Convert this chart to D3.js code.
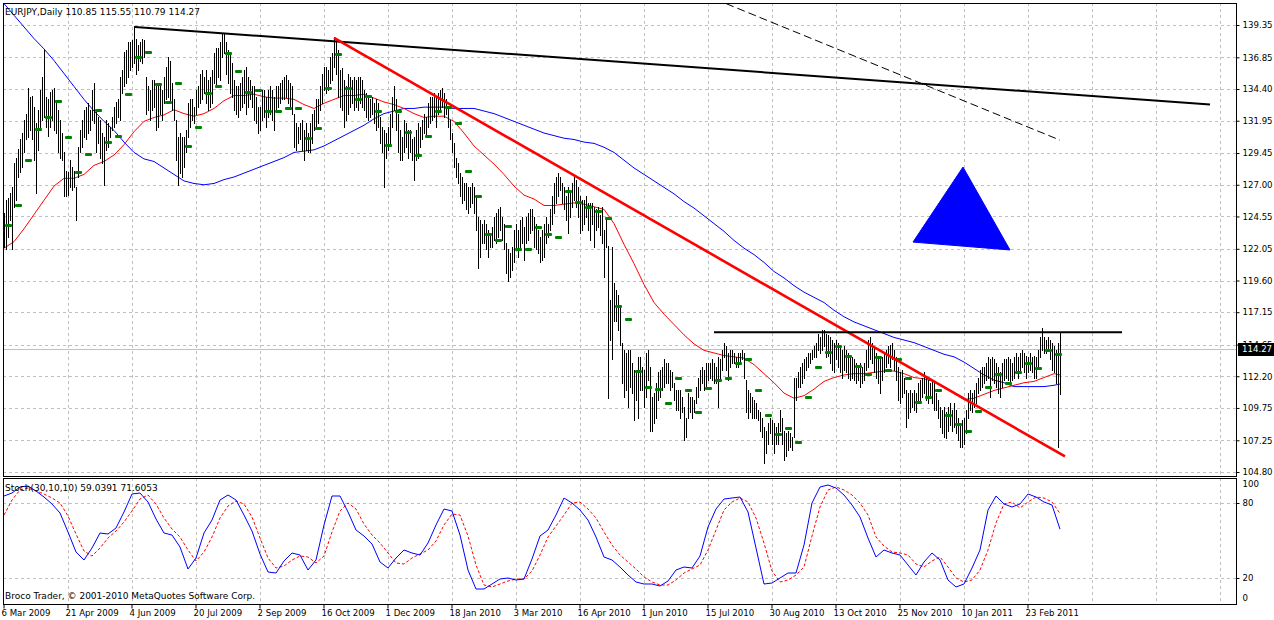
<!DOCTYPE html>
<html>
<head>
<meta charset="utf-8">
<script src="https://cdn.jsdelivr.net/npm/d3@7/dist/d3.min.js"></script>
<style>
  body { margin: 0; background: #fff; }
  text { font-family: "DejaVu Sans", sans-serif; }
</style>
</head>
<body>
<script>
// daily bars, 6 Mar 2009 .. 18 Mar 2011
const barHigh = [
  124.8,125.8,126.0,126.4,126.8,128.7,129.1,129.8,130.5,131.0,
  132.0,132.5,134.5,133.8,133.9,133.0,131.8,132.8,134.3,135.3,
  137.4,133.8,133.6,134.2,134.3,134.5,133.3,132.8,132.0,131.0,
  129.5,128.1,128.0,128.9,128.4,128.1,126.8,129.9,131.2,132.0,
  132.8,133.0,133.3,132.8,134.3,134.9,132.8,132.2,132.0,131.0,
  130.7,132.0,131.8,131.5,132.2,133.0,133.4,133.6,135.3,135.9,
  137.3,137.4,138.0,138.0,138.2,139.3,138.3,137.8,138.0,138.3,
  138.2,135.3,134.6,134.3,135.1,135.1,134.9,134.6,134.9,134.3,
  135.3,136.1,136.9,136.6,134.9,133.6,132.0,130.7,131.0,130.7,
  130.7,131.2,133.3,133.6,133.6,133.0,134.3,134.6,135.6,135.9,
  135.3,135.9,135.1,135.3,135.9,137.2,137.6,137.6,138.0,138.7,
  138.7,138.0,137.4,137.2,136.4,135.1,134.6,134.6,134.9,135.3,
  135.9,136.1,135.3,135.1,134.6,134.6,133.8,133.0,133.0,134.3,
  134.3,133.8,134.3,134.6,134.3,133.8,134.6,134.6,134.9,135.1,
  135.3,135.5,135.1,134.9,134.6,132.5,131.8,131.5,131.8,132.0,
  131.2,131.8,131.0,131.8,132.5,132.8,133.6,133.6,134.6,135.6,
  136.1,136.1,135.9,136.9,137.2,138.4,138.2,137.4,135.9,136.0,
  135.1,134.6,135.6,135.3,135.1,135.3,135.1,135.3,135.3,135.1,
  134.3,134.1,133.8,133.6,133.8,133.3,133.6,133.3,132.2,131.5,
  131.2,131.0,131.5,132.5,133.8,134.6,133.6,132.5,131.2,130.7,
  132.0,131.8,131.2,131.2,130.5,130.7,131.2,131.8,131.5,132.0,
  132.5,132.2,133.3,133.8,133.8,134.1,133.8,134.1,134.3,134.5,
  134.1,133.6,133.0,132.0,131.0,130.2,129.1,128.7,127.9,127.6,
  127.1,127.1,126.8,126.8,127.1,126.8,126.1,124.5,124.3,124.0,
  124.3,124.0,123.5,123.3,123.7,124.5,124.8,125.1,125.3,124.5,
  124.0,122.5,122.0,121.7,122.2,123.5,124.0,123.5,124.3,124.5,
  123.7,124.5,124.8,125.1,125.1,124.5,124.0,123.5,123.0,123.5,
  124.0,124.5,124.0,125.1,126.1,127.1,127.6,127.9,127.6,127.1,
  126.8,126.1,126.8,126.6,127.1,127.6,127.4,126.8,126.1,125.8,
  125.8,126.1,125.6,125.6,125.6,125.3,125.1,125.3,124.7,125.3,
  123.5,124.5,122.3,118.1,122.2,119.4,118.9,118.5,117.7,114.8,
  114.2,114.0,114.2,114.2,113.2,112.7,112.7,113.7,113.7,112.9,
  112.7,114.0,114.2,112.9,110.6,110.9,111.7,112.5,112.7,112.9,
  113.5,113.2,113.2,112.7,112.5,111.7,111.1,111.1,111.1,110.6,
  109.8,109.0,110.9,110.6,110.6,110.4,111.4,112.1,112.7,112.9,
  112.7,113.2,113.2,113.2,113.5,113.2,112.9,113.7,113.5,114.2,
  114.8,114.5,114.0,114.2,114.2,114.0,113.7,114.0,114.0,114.2,
  114.0,111.9,111.1,110.9,110.6,110.4,110.1,109.6,109.4,109.0,
  108.3,108.0,108.6,109.0,108.8,108.6,108.3,108.6,109.6,109.0,
  108.0,107.8,108.0,107.8,107.5,112.1,112.1,112.5,112.9,113.2,
  113.5,113.7,114.0,114.0,114.2,114.5,114.8,115.5,115.2,115.8,
  115.8,115.5,115.4,115.2,115.0,114.8,115.0,114.8,114.5,114.2,
  114.5,114.2,114.0,113.7,113.7,113.5,113.2,112.9,113.2,112.9,
  113.2,114.2,115.0,115.2,114.8,114.5,114.0,113.7,113.5,113.7,
  114.0,114.2,114.5,114.6,114.8,114.2,113.7,112.9,112.5,112.7,
  112.1,111.1,110.9,111.1,110.9,111.1,110.9,111.7,111.9,112.1,
  112.5,112.1,111.9,111.7,111.9,111.7,110.9,110.4,109.8,109.6,
  109.8,109.4,109.8,110.1,109.6,110.1,109.6,109.0,108.6,108.8,
  109.0,109.6,110.9,111.1,110.9,111.1,111.7,112.1,112.7,112.9,
  112.9,113.2,113.7,113.5,113.7,113.5,113.2,112.9,112.5,113.2,
  113.5,113.5,113.7,113.5,113.2,113.7,114.0,113.7,114.0,114.2,
  114.0,113.8,113.7,114.0,113.7,113.8,113.7,114.2,115.2,115.9,
  115.2,115.0,115.2,115.0,114.8,114.5,114.2,114.8,115.55
];
const barLow = [
  122.2,122.0,123.0,124.3,122.0,125.3,125.8,127.6,128.0,128.4,
  129.5,130.5,130.7,131.2,130.5,128.9,126.4,129.7,131.2,132.0,
  132.2,131.5,130.8,131.5,132.0,131.2,131.0,129.5,129.1,128.9,
  126.1,126.1,126.2,126.8,126.6,126.8,124.3,127.6,129.5,129.9,
  130.7,130.5,131.0,131.2,132.0,131.8,129.5,130.2,129.1,128.7,
  127.0,129.7,129.9,130.7,131.2,131.5,131.8,132.2,132.0,134.1,
  134.6,134.9,135.3,135.9,136.1,136.4,135.6,135.9,136.6,136.4,
  136.9,132.5,132.8,132.0,132.8,133.0,131.2,131.5,132.5,132.0,
  133.3,133.6,133.8,133.3,132.8,132.0,128.9,127.0,127.9,127.6,
  128.4,129.5,130.7,131.5,132.0,131.8,132.5,133.0,133.3,133.6,
  134.1,133.3,132.8,133.0,133.3,134.9,134.6,135.3,135.1,136.9,
  137.2,135.6,134.9,134.1,133.8,132.8,132.5,132.2,132.8,133.0,
  133.3,132.5,133.0,133.6,133.0,132.0,131.8,131.0,131.2,132.0,
  132.2,131.5,132.2,132.5,132.0,131.2,132.8,133.0,133.3,133.6,
  133.6,133.8,133.3,133.0,132.5,129.9,129.7,130.2,130.5,129.7,
  128.9,129.7,129.5,129.5,130.2,131.2,131.5,131.8,132.8,133.3,
  134.3,134.1,134.3,134.9,135.1,136.1,135.6,133.8,133.0,132.8,
  131.5,132.0,132.5,133.0,133.3,132.8,133.0,132.8,133.3,133.0,
  132.8,132.2,132.0,132.2,132.5,131.8,131.2,131.5,130.2,129.5,
  126.8,129.1,129.7,130.2,131.5,132.8,131.2,129.5,128.9,128.9,
  129.5,129.9,129.1,129.5,128.9,127.4,128.9,129.1,129.9,130.5,
  131.0,130.7,131.5,131.8,132.0,132.2,131.5,132.5,132.8,133.0,
  132.2,132.5,131.5,130.5,129.5,128.4,127.6,127.1,126.1,125.6,
  125.8,125.1,124.8,125.3,125.6,124.8,123.5,120.6,121.4,122.5,
  122.5,122.0,121.4,122.2,122.2,122.7,122.5,123.0,123.5,122.7,
  122.0,120.2,119.6,119.9,120.4,121.0,122.0,121.4,122.2,122.5,
  121.2,122.5,122.7,123.3,123.5,122.2,122.0,121.7,121.0,121.2,
  121.4,122.5,123.0,123.5,124.0,124.8,125.6,126.1,126.6,125.6,
  125.1,124.3,123.3,124.5,125.3,125.8,125.3,124.5,123.3,123.5,
  124.0,124.5,123.5,122.7,124.0,122.2,123.5,123.7,123.1,122.5,
  119.9,122.2,110.5,115.0,113.5,116.5,116.5,115.8,114.6,111.7,
  110.6,111.1,109.8,111.4,110.9,108.8,110.4,109.0,111.1,111.1,
  109.8,110.6,111.9,108.0,108.0,108.6,109.0,110.4,110.6,111.1,
  111.4,111.7,111.7,111.1,111.4,110.4,109.6,109.6,109.0,109.4,
  107.3,107.5,109.0,109.4,109.0,109.4,110.1,110.6,111.1,111.7,
  111.1,111.4,111.9,112.1,111.9,111.7,111.7,109.8,112.1,112.7,
  113.7,112.7,111.9,112.9,113.2,113.2,112.9,112.9,113.2,113.5,
  112.1,109.4,109.0,109.4,109.0,109.0,109.0,108.8,108.0,107.5,
  105.5,106.3,107.0,107.8,107.0,106.3,107.0,107.0,108.0,107.0,
  105.7,106.0,106.5,106.7,106.5,107.5,110.4,111.4,111.4,111.7,
  112.1,112.7,112.9,113.2,113.5,113.7,113.7,114.2,114.0,114.2,
  114.5,113.7,113.8,113.2,112.7,112.5,113.5,112.9,112.5,112.1,
  112.7,112.5,112.1,111.9,112.1,111.9,111.7,111.9,111.4,111.7,
  111.9,112.7,112.9,113.5,113.2,112.5,112.1,111.7,110.9,111.9,
  112.5,112.9,113.2,112.9,113.5,112.7,111.9,110.4,110.1,110.6,
  110.9,108.3,109.0,109.4,109.8,109.6,109.4,110.1,110.4,110.6,
  110.9,110.4,110.1,110.6,110.1,109.6,109.6,109.0,108.3,107.8,
  107.5,107.4,108.0,108.4,108.0,108.3,107.8,107.3,106.7,106.7,
  107.0,107.8,109.0,109.6,109.4,109.8,110.1,110.9,111.1,111.4,
  111.7,111.9,112.1,110.6,111.9,111.7,111.4,110.9,110.6,111.4,
  111.9,112.1,111.9,111.7,111.9,112.1,112.5,112.1,112.7,112.9,
  112.5,112.1,112.5,112.7,112.5,112.1,112.1,112.9,113.7,114.2,
  114.0,114.0,114.2,113.5,112.7,112.5,111.7,106.7,110.79
];

// green weekly markers, one per week (5 bars)
const weekMark = [
  123.9,125.4,128.9,131.3,132.2,133.5,130.7,128.0,129.4,132.8,
  130.3,130.8,134.0,136.9,137.3,134.8,133.4,134.9,130.0,131.5,
  134.1,134.6,137.2,135.8,134.2,134.3,132.7,132.7,132.9,132.9,
  130.6,131.4,134.5,137.1,134.5,133.6,133.9,132.7,130.1,132.7,
  131.1,129.3,130.8,132.7,133.0,131.8,128.1,126.1,123.2,122.7,
  123.8,122.0,122.0,123.7,123.2,123.0,126.5,125.7,125.3,125.0,
  124.4,117.6,116.6,112.6,111.4,111.2,110.1,112.1,111.1,109.4,
  111.3,111.9,112.1,113.2,113.5,111.1,109.2,107.7,108.2,107.1,
  110.6,112.9,114.1,114.5,113.8,113.0,112.4,113.7,112.7,113.5,
  112.1,110.2,110.6,111.1,109.2,108.5,108.0,109.5,111.4,112.4,
  111.7,112.5,113.2,112.8,114.2,113.9
];

// moving averages, sampled every 5 bars (last value = last bar)
const maStep = 5;
const maRed = [
  122.1,122.6,123.6,124.7,125.8,126.9,127.5,127.5,127.8,128.5,
  128.8,129.3,130.1,131.1,131.9,132.2,132.4,132.8,132.5,132.3,
  132.5,132.9,133.5,133.9,133.9,134.0,133.8,133.7,133.7,133.6,
  133.2,132.9,133.3,133.6,133.9,133.9,134.0,133.7,133.4,133.2,
  132.9,132.5,132.2,132.3,132.3,131.9,131.0,130.0,129.3,128.6,
  127.8,126.9,126.2,125.9,125.4,125.4,125.5,125.6,125.5,125.3,
  125.1,124.0,122.4,120.9,119.3,117.9,117.0,116.2,115.4,114.7,
  114.2,114.0,113.8,113.7,113.6,113.1,112.4,111.7,110.9,110.5,
  110.7,111.2,111.8,112.1,112.3,112.4,112.4,112.5,112.6,112.6,
  112.4,112.1,112.0,111.8,111.4,110.9,110.4,110.5,110.8,111.1,
  111.3,111.5,111.7,111.8,112.1,112.4,112.3
];
const maBlue = [
  141.0,140.1,139.2,138.3,137.5,136.6,135.6,134.6,133.6,132.7,
  131.9,131.2,130.3,129.5,129.0,128.8,128.3,127.8,127.3,127.1,
  127.0,127.1,127.4,127.6,127.9,128.2,128.5,128.8,129.1,129.5,
  129.6,129.7,130.0,130.4,130.8,131.2,131.6,132.1,132.5,132.7,
  132.9,132.9,133.0,133.0,133.0,132.9,132.9,132.9,132.7,132.5,
  132.2,131.9,131.6,131.3,131.0,130.8,130.6,130.5,130.3,130.2,
  129.9,129.5,128.9,128.3,127.8,127.3,126.8,126.3,125.7,125.2,
  124.6,124.0,123.4,122.7,122.1,121.6,121.0,120.3,119.8,119.2,
  118.7,118.3,117.9,117.3,116.8,116.4,116.1,115.8,115.5,115.2,
  115.0,114.8,114.5,114.2,113.9,113.7,113.3,112.8,112.3,111.9,
  111.7,111.4,111.4,111.4,111.4,111.5,111.6
];

// Stoch(30,10,10), sampled every 4 bars
const stochStep = 4;
const stochMain = [
  85.6,88,92.8,93.6,89.6,84.8,79.2,72,56.8,40.8,
  34.4,44,56,55.2,60,72.8,87.2,88,80.8,67.2,
  56,54.4,44.8,27.2,36,56,66.4,82.4,86.4,82.4,
  70.4,57.6,39.2,24.8,24,33.6,40,38.4,26.4,34.4,
  62.4,85.6,85.6,72.8,58.4,53.6,47.2,32.8,28,36,
  42.4,40,38.4,48,62.4,75.2,73.6,54.4,26.4,11.2,
  11.2,15.2,19.2,20,18.4,19.2,35.2,53.6,58.4,70.4,
  84,80,74.4,66.4,52.8,36.8,34.4,28.8,22.4,16.8,
  15.2,15.2,13.6,17.6,26.4,28.8,28,37.6,60.8,75.2,
  83.2,84,84.8,72.8,44,15.2,16,20,24,24,
  46.4,80,92.8,94.4,92,86.4,78.4,68.8,52,36.8,
  42.4,40,38.4,30.4,22.4,32.8,40,34.4,18.4,12.8,
  15.2,28,42.4,74.4,85.6,79.2,76.8,79.2,87.2,84.8,
  80.8,78.4,59.0391
];
const stochSignal = [
  70.4,82.4,90.4,92,89.6,87.2,84,80,69.6,55.2,
  41.6,37.6,44,52,57.6,64.8,73.6,83.2,86.4,79.2,
  68,59.2,52.8,42.4,33.6,40.8,52.8,68,77.6,81.6,
  79.2,68.8,52,36,28,29.6,34.4,37.6,36.8,32,
  37.6,56.8,73.6,80,75.2,63.2,54.4,48,40,32,
  31.2,36,39.2,42.4,49.6,62.4,71.2,70.4,53.6,30.4,
  14.4,12.8,15.2,17.6,19.2,19.2,25.6,38.4,52.8,61.6,
  70.4,80,80.8,75.2,68,56.8,46.4,38.4,32.8,27.2,
  20.8,16.8,14.4,14.4,18.4,24,27.2,30.4,42.4,58.4,
  74.4,80.8,84,80.8,68,48,25.6,16.8,18.4,22.4,
  28.8,53.6,76.8,90.4,92.8,90.4,86.4,80,70.4,52.8,
  45.6,40.8,40,38.4,31.2,28.8,33.6,36.8,28.8,20,
  16.8,18.4,26.4,42.4,64,79.2,80.8,76,80.8,84.8,
  84,80.8,71.6053
];

// drawn objects: [bar index, price]
const trendBlack = [[65.5, 139.2], [603, 133.2]];
const trendRed = [[165, 138.35], [530.5, 106.0]];
const resistance = [[355, 115.6], [559, 115.6]];
const trendDashed = [[350, 141.7], [528, 130.45]];
const triangle = [[479.5, 128.37], [454.5, 122.57], [503, 121.96]];

const priceTicks = [139.35, 136.85, 134.40, 131.95, 129.45, 127.00, 124.55,
  122.05, 119.60, 117.15, 114.65, 112.20, 109.75, 107.25, 104.80];
const stochTicks = [0, 20, 80, 100];
const dateLabels = ["6 Mar 2009", "21 Apr 2009", "4 Jun 2009", "20 Jul 2009",
  "2 Sep 2009", "16 Oct 2009", "1 Dec 2009", "18 Jan 2010", "3 Mar 2010",
  "16 Apr 2010", "1 Jun 2010", "15 Jul 2010", "30 Aug 2010", "13 Oct 2010",
  "25 Nov 2010", "10 Jan 2011", "23 Feb 2011"];
const barsPerLabel = 32;
const lastQuote = {open: 110.85, high: 115.55, low: 110.79, close: 114.27};

const width = 1274, height = 620;
const main = {left: 3, right: 1236, top: 3, bottom: 476};
const sub = {top: 478, bottom: 604};
const lastBar = barHigh.length - 1;

const xScale = d3.scaleLinear().domain([0, lastBar]).range([4, 4 + 2 * lastBar]);
const yScale = d3.scaleLinear().domain([104.49, 141.05]).range([main.bottom, main.top]);
const sScale = d3.scaleLinear().domain([0, 100]).range([603, 478]);

const px = (v) => Math.round(v) + 0.5;

const svg = d3.select("body").append("svg")
  .attr("width", width).attr("height", height)
  .style("display", "block");

const defs = svg.append("defs");
defs.append("clipPath").attr("id", "clipMain").append("rect")
  .attr("x", main.left).attr("y", main.top)
  .attr("width", main.right - main.left).attr("height", main.bottom - main.top);
defs.append("clipPath").attr("id", "clipSub").append("rect")
  .attr("x", main.left).attr("y", sub.top)
  .attr("width", main.right - main.left).attr("height", sub.bottom - sub.top);

const gridBars = d3.range(0, 609, barsPerLabel);
const gridColor = "#c0c0c0";

// ---- grid
const grid = svg.append("g")
  .attr("stroke", gridColor).attr("stroke-dasharray", "3,3")
  .attr("shape-rendering", "crispEdges");
grid.selectAll("line.h").data(priceTicks).enter().append("line")
  .attr("x1", main.left).attr("x2", main.right)
  .attr("y1", (d) => px(yScale(d))).attr("y2", (d) => px(yScale(d)));
grid.selectAll("line.hs").data([20, 80]).enter().append("line")
  .attr("x1", main.left).attr("x2", main.right)
  .attr("y1", (d) => px(sScale(d))).attr("y2", (d) => px(sScale(d)));
grid.selectAll("line.v").data(gridBars.slice(1)).enter().append("line")
  .attr("x1", (d) => px(xScale(d))).attr("x2", (d) => px(xScale(d)))
  .attr("y1", main.top).attr("y2", main.bottom);
grid.selectAll("line.vs").data(gridBars.slice(1)).enter().append("line")
  .attr("x1", (d) => px(xScale(d))).attr("x2", (d) => px(xScale(d)))
  .attr("y1", sub.top).attr("y2", sub.bottom);

// ---- main panel
const gMain = svg.append("g").attr("clip-path", "url(#clipMain)");

// current price line
gMain.append("line")
  .attr("x1", main.left).attr("x2", main.right)
  .attr("y1", px(yScale(lastQuote.close))).attr("y2", px(yScale(lastQuote.close)))
  .attr("stroke", "#c0c0c0").attr("shape-rendering", "crispEdges");

const sampleBar = (step) => (d, i) => xScale(Math.min(i * step, lastBar));

const maLine = d3.line().x(sampleBar(maStep)).y((d) => yScale(d));
gMain.append("path").datum(maBlue).attr("d", maLine)
  .attr("fill", "none").attr("stroke", "#0000ff").attr("stroke-width", 1);
gMain.append("path").datum(maRed).attr("d", maLine)
  .attr("fill", "none").attr("stroke", "#ff0000").attr("stroke-width", 1);

// bars
gMain.append("g").attr("stroke", "#000").attr("shape-rendering", "crispEdges")
  .selectAll("line").data(barHigh).enter().append("line")
  .attr("x1", (d, i) => px(xScale(i))).attr("x2", (d, i) => px(xScale(i)))
  .attr("y1", (d) => Math.round(yScale(d)))
  .attr("y2", (d, i) => Math.round(yScale(barLow[i])) + 1);

// weekly markers
gMain.append("g").selectAll("rect").data(weekMark).enter().append("rect")
  .attr("x", (d, i) => Math.round(xScale(i * 5 + 2)) - 3)
  .attr("y", (d) => Math.round(yScale(d)) - 1)
  .attr("width", 7).attr("height", 3).attr("rx", 1)
  .attr("fill", "#008000");

// drawn objects
const objLine = d3.line().x((d) => xScale(d[0])).y((d) => yScale(d[1]));
gMain.append("path").datum(trendBlack).attr("d", objLine)
  .attr("stroke", "#000").attr("stroke-width", 2).attr("fill", "none");
gMain.append("path").datum(trendRed).attr("d", objLine)
  .attr("stroke", "#ff0000").attr("stroke-width", 2.6).attr("fill", "none");
gMain.append("path").datum(resistance).attr("d", objLine)
  .attr("stroke", "#000").attr("stroke-width", 2).attr("fill", "none");
gMain.append("path").datum(trendDashed).attr("d", objLine)
  .attr("stroke", "#000").attr("stroke-width", 1).attr("stroke-dasharray", "8,4")
  .attr("fill", "none");
gMain.append("path").datum(triangle).attr("d", (d) => objLine(d) + "Z")
  .attr("fill", "#0000ff").attr("stroke", "#0000ff");

// ---- stochastic panel
const gSub = svg.append("g").attr("clip-path", "url(#clipSub)");
const stochLine = d3.line().x(sampleBar(stochStep)).y((d) => sScale(d));
gSub.append("path").datum(stochSignal).attr("d", stochLine)
  .attr("fill", "none").attr("stroke", "#ff0000").attr("stroke-dasharray", "3,2");
gSub.append("path").datum(stochMain).attr("d", stochLine)
  .attr("fill", "none").attr("stroke", "#0000ff");

// ---- frames
svg.append("g").attr("fill", "none").attr("stroke", "#000")
  .attr("shape-rendering", "crispEdges")
  .selectAll("rect").data([[main.top, main.bottom], [sub.top, sub.bottom]])
  .enter().append("rect")
  .attr("x", main.left + 0.5).attr("y", (d) => d[0] + 0.5)
  .attr("width", main.right - main.left).attr("height", (d) => d[1] - d[0]);

// ---- axes
const fontSize = "8.6px";

const priceAxis = svg.append("g")
  .attr("transform", "translate(" + (main.right + 0.5) + ",0)")
  .call(d3.axisRight(yScale).tickValues(priceTicks).tickSize(3).tickSizeOuter(0)
    .tickPadding(3).tickFormat(d3.format(".2f")));
priceAxis.select(".domain").remove();
priceAxis.selectAll("text").style("font-size", fontSize).attr("fill", "#000")
  .style("font-family", "'DejaVu Sans', sans-serif");

const stochAxis = svg.append("g")
  .attr("transform", "translate(" + (main.right + 0.5) + ",0)")
  .call(d3.axisRight(sScale).tickValues(stochTicks).tickSize(3).tickPadding(3));
stochAxis.select(".domain").remove();
stochAxis.selectAll("text").style("font-size", fontSize).attr("fill", "#000")
  .style("font-family", "'DejaVu Sans', sans-serif")
  .attr("dy", (d) => d === 100 ? "0.95em" : (d === 0 ? "-0.25em" : "0.32em"));
stochAxis.selectAll(".tick line").filter((d) => d === 0 || d === 100).remove();

const dateBars = dateLabels.map((d, i) => i * barsPerLabel);
const dateAxis = svg.append("g")
  .attr("transform", "translate(0," + (sub.bottom + 0.5) + ")")
  .call(d3.axisBottom(xScale).tickValues(dateBars).tickSize(4).tickPadding(1)
    .tickFormat((d, i) => dateLabels[i]));
dateAxis.select(".domain").remove();
dateAxis.selectAll(".tick line").attr("transform", "translate(-0.5,0)");
dateAxis.selectAll("text").style("font-size", fontSize).attr("fill", "#000")
  .style("font-family", "'DejaVu Sans', sans-serif")
  .attr("text-anchor", "start").attr("x", -3);

// current price label
const closeY = yScale(lastQuote.close);
svg.append("rect")
  .attr("x", main.right + 2).attr("y", Math.round(closeY) - 6)
  .attr("width", 36).attr("height", 13).attr("fill", "#000");
svg.append("text")
  .attr("x", main.right + 6).attr("y", closeY).attr("dy", "0.35em")
  .style("font-size", fontSize).attr("fill", "#fff")
  .text(d3.format(".2f")(lastQuote.close));

// ---- captions
const fmt = d3.format(".2f");
svg.append("text").attr("x", 5).attr("y", 15).style("font-size", "9px")
  .text("EURJPY,Daily  " + [lastQuote.open, lastQuote.high, lastQuote.low, lastQuote.close]
    .map(fmt).join(" "));
svg.append("text").attr("x", 5).attr("y", 491).style("font-size", "9px")
  .text("Stoch(30,10,10) " + stochMain[stochMain.length - 1].toFixed(4) + " "
    + stochSignal[stochSignal.length - 1].toFixed(4));
svg.append("text").attr("x", 5).attr("y", 599).style("font-size", "9px")
  .text("Broco Trader, \u00a9 2001-2010 MetaQuotes Software Corp.");
</script>
</body>
</html>
